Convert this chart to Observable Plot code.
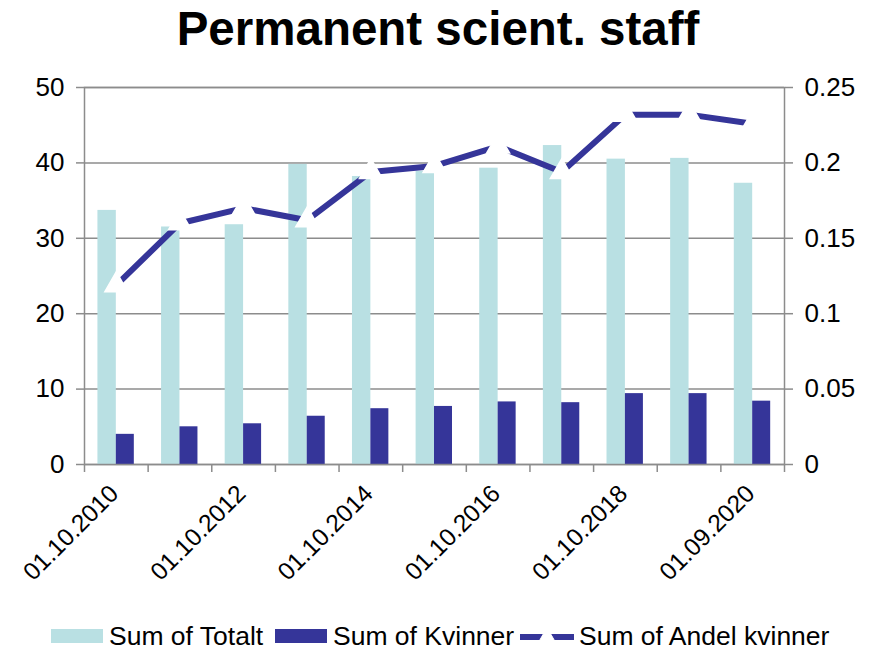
<!DOCTYPE html>
<html>
<head>
<meta charset="utf-8">
<script src="https://cdn.jsdelivr.net/npm/d3@7"></script>
<script src="https://cdn.jsdelivr.net/npm/@observablehq/plot@0.6"></script>
<style>
  body { margin: 0; background: #fff; font-family: "Liberation Sans", Arial, sans-serif; }
  #wrap { position: relative; width: 876px; height: 650px; overflow: hidden; }
  #title { position: absolute; left: 0; top: 2px; width: 876px; text-align: center; font-weight: bold; font-size: 47.5px; line-height: 54px; color: #000; }
  #chart { position: absolute; left: 0; top: 62px; }
  .lg { position: absolute; font-size: 26.5px; line-height: 26px; color: #000; white-space: nowrap; }
  .sw { position: absolute; }
</style>
</head>
<body>
<div id="wrap">
  <div id="title">Permanent scient. staff</div>
  <div id="chart"></div>
  <div id="legend"></div>
</div>
<script>
// ---- data ----
const categories = ["01.10.2010","01.10.2011","01.10.2012","01.10.2013","01.10.2014","01.10.2015","01.10.2016","01.10.2017","01.10.2018","01.10.2019","01.09.2020"];
const totalt  = [33.7, 31.5, 31.8, 39.8, 38.2, 38.9, 39.3, 42.3, 40.5, 40.6, 37.3];
const kvinner = [4.0, 5.0, 5.4, 6.4, 7.4, 7.7, 8.3, 8.2, 9.4, 9.4, 8.4];
const andel   = [0.119, 0.160, 0.170, 0.162, 0.194, 0.198, 0.211, 0.194, 0.232, 0.232, 0.226];
const leftTicks  = [0, 10, 20, 30, 40, 50];
const rightTicks = [0, 0.05, 0.1, 0.15, 0.2, 0.25];
const shownLabels = ["01.10.2010","01.10.2012","01.10.2014","01.10.2016","01.10.2018","01.09.2020"];
const seriesNames = ["Sum of Totalt", "Sum of Kvinner", "Sum of Andel kvinner"];

// ---- style ----
const cTotalt = "#B9E0E3", cKvinner = "#353599", grey = "#8c8c8c";
const W = 876, H = 550, mL = 84, mR = 92, mT = 25, mB = 148;
const bw = (W - mL - mR) / categories.length;
const ratio = 50 / 0.25; // left axis units per right axis unit

const rows = categories.map((c, i) => ({cat: c, totalt: totalt[i], kvinner: kvinner[i], andel: andel[i]}));

const chart = Plot.plot({
  width: W, height: H,
  marginLeft: mL, marginRight: mR, marginTop: mT, marginBottom: mB,
  style: {fontFamily: '"Liberation Sans", Arial, sans-serif', fontSize: "26px", color: "#000", background: "#fff", overflow: "visible"},
  x: {type: "band", domain: categories, padding: 0, round: false, label: null},
  y: {domain: [0, 50], label: null},
  marks: [
    Plot.gridY(leftTicks, {stroke: grey, strokeOpacity: 1, strokeWidth: 1.5}),
    Plot.barY(rows, {x: "cat", y: "totalt", fill: cTotalt, insetLeft: bw / 2 - 18.4, insetRight: bw / 2}),
    Plot.barY(rows, {x: "cat", y: "kvinner", fill: cKvinner, insetLeft: bw / 2, insetRight: bw / 2 - 18}),
    Plot.frame({stroke: grey, strokeWidth: 1.5}),
    Plot.axisY(leftTicks, {anchor: "left", tickSize: 8, tickPadding: 12, stroke: grey, strokeWidth: 1.5, fill: "#000", fontSize: 26, label: null}),
    Plot.axisY(rightTicks.map(t => t * ratio), {anchor: "right", tickSize: 8, tickPadding: 12, stroke: grey, strokeWidth: 1.5, fill: "#000", fontSize: 26, label: null,
      tickFormat: d => String(+(d / ratio).toFixed(2))}),
    Plot.axisX(categories, {tickSize: 8, tickFormat: () => "", dx: -bw / 2, stroke: grey, strokeWidth: 1.5, label: null}),
    Plot.axisX([categories[categories.length - 1]], {tickSize: 8, tickFormat: () => "", dx: bw / 2, stroke: grey, strokeWidth: 1.5, label: null}),
    Plot.axisX(shownLabels, {tickSize: 0, tickPadding: 25, tickRotate: -45, fontSize: 24.5, fill: "#000", dx: -2, label: null}),
    Plot.line(rows, {x: "cat", y: d => d.andel * ratio, stroke: cKvinner, strokeWidth: 6}),
    Plot.dot(rows, {x: "cat", y: d => d.andel * ratio, symbol: "triangle", r: 8.5, fill: "#fff", stroke: "#fff", strokeWidth: 1.5})
  ]
});
document.getElementById("chart").appendChild(chart);

// ---- legend ----
const lg = document.getElementById("legend");
function add(html) { lg.insertAdjacentHTML("beforeend", html); }
add(`<div class="sw" style="left:51px;top:629px;width:52px;height:14px;background:${cTotalt}"></div>`);
add(`<div class="lg" style="left:109px;top:623px">${seriesNames[0]}</div>`);
add(`<div class="sw" style="left:275px;top:629px;width:52px;height:14px;background:${cKvinner}"></div>`);
add(`<div class="lg" style="left:333px;top:623px">${seriesNames[1]}</div>`);
add(`<svg class="sw" style="left:517px;top:626px" width="60" height="22">
  <line x1="3" x2="57" y1="11" y2="11" stroke="${cKvinner}" stroke-width="6"/>
  <path d="${d3.symbol(d3.symbolTriangle, 140)()}" transform="translate(30,12)" fill="#fff" stroke="#fff" stroke-width="1"/>
</svg>`);
add(`<div class="lg" style="left:579px;top:623px">${seriesNames[2]}</div>`);
</script>
</body>
</html>
